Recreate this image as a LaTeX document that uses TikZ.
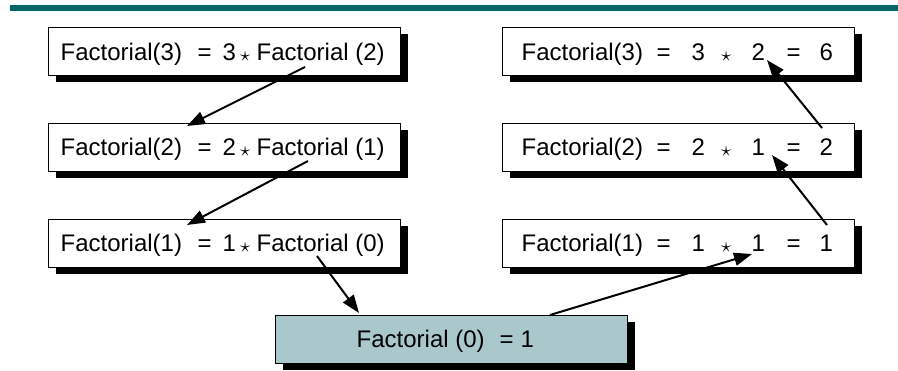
\documentclass[tikz,border=0pt]{standalone}
\usepackage{fontspec}
\setmainfont{Liberation Sans}
\usetikzlibrary{arrows.meta,shadows}
\definecolor{rulecol}{RGB}{0,102,102}
\definecolor{basefill}{RGB}{170,200,204}
\newcommand\tk[2]{\rlap{\hspace*{#1pt}#2}}
\newcommand\st{\raisebox{-1pt}{\fontsize{22}{22}\selectfont$\star$}}
\begin{document}
\begin{tikzpicture}[x=1pt,y=-1pt,
  box/.style={draw=black, line width=0.8pt, fill=white, minimum width=352pt,
    minimum height=48pt, inner sep=0pt,
    drop shadow={shadow xshift=8pt, shadow yshift=-7pt, fill=black, opacity=1}},
  basebox/.style={box, fill=basefill},
  txt/.style={anchor=base west, inner sep=0pt, font=\fontsize{24}{24}\selectfont},
  arr/.style={line width=2pt, -{Triangle[length=18pt,width=13pt]}}]
\useasboundingbox (0,0) rectangle (898,371);
\fill[rulecol] (10,5) rectangle (898,11);
% boxes
\node[box] (L1) at (224,51.5) {};
\node[box] (L2) at (224,147) {};
\node[box] (L3) at (224,243) {};
\node[box] (R1) at (678,51.5) {};
\node[box] (R2) at (678,147) {};
\node[box] (R3) at (678,243) {};
\node[basebox] (B) at (451,339) {};
% texts
\node[txt] (tL1) at (60,60.5) {\tk{0}{Factorial(3)}\tk{137}{=}\tk{162}{3}\tk{179.5}{\st}\tk{196}{Factorial (2)}};
\node[txt] (tL2) at (60,156) {\tk{0}{Factorial(2)}\tk{137}{=}\tk{162}{2}\tk{179.5}{\st}\tk{196}{Factorial (1)}};
\node[txt] (tL3) at (60,252) {\tk{0}{Factorial(1)}\tk{137}{=}\tk{162}{1}\tk{179.5}{\st}\tk{196}{Factorial (0)}};
\node[txt] (tR1) at (521,60.5) {\tk{0}{Factorial(3)}\tk{135}{=}\tk{170}{3}\tk{199.5}{\st}\tk{230}{2}\tk{265}{=}\tk{298}{6}};
\node[txt] (tR2) at (521,156) {\tk{0}{Factorial(2)}\tk{135}{=}\tk{170}{2}\tk{199.5}{\st}\tk{230}{1}\tk{265}{=}\tk{298}{2}};
\node[txt] (tR3) at (521,252) {\tk{0}{Factorial(1)}\tk{135}{=}\tk{170}{1}\tk{199.5}{\st}\tk{230}{1}\tk{265}{=}\tk{298}{1}};
\node[txt] (tB) at (356,348) {\tk{0}{Factorial (0)}\tk{143}{=}\tk{164}{1}};
% connector end points
\coordinate (a1s) at (305,67);
\coordinate (a1e) at (187,126);
\coordinate (a2s) at (308,161);
\coordinate (a2e) at (187,225);
\coordinate (a3s) at (317,256);
\coordinate (a3e) at (359,313);
\coordinate (a4s) at (550,315);
\coordinate (a4e) at (752,254);
\coordinate (a5s) at (827,225);
\coordinate (a5e) at (772,155);
\coordinate (a6s) at (822,128);
\coordinate (a6e) at (767,60);
\draw[arr] (a1s) -- (a1e);
\draw[arr] (a2s) -- (a2e);
\draw[arr] (a3s) -- (a3e);
\draw[arr] (a4s) -- (a4e);
\draw[arr] (a5s) -- (a5e);
\draw[arr] (a6s) -- (a6e);
\end{tikzpicture}
\end{document}
